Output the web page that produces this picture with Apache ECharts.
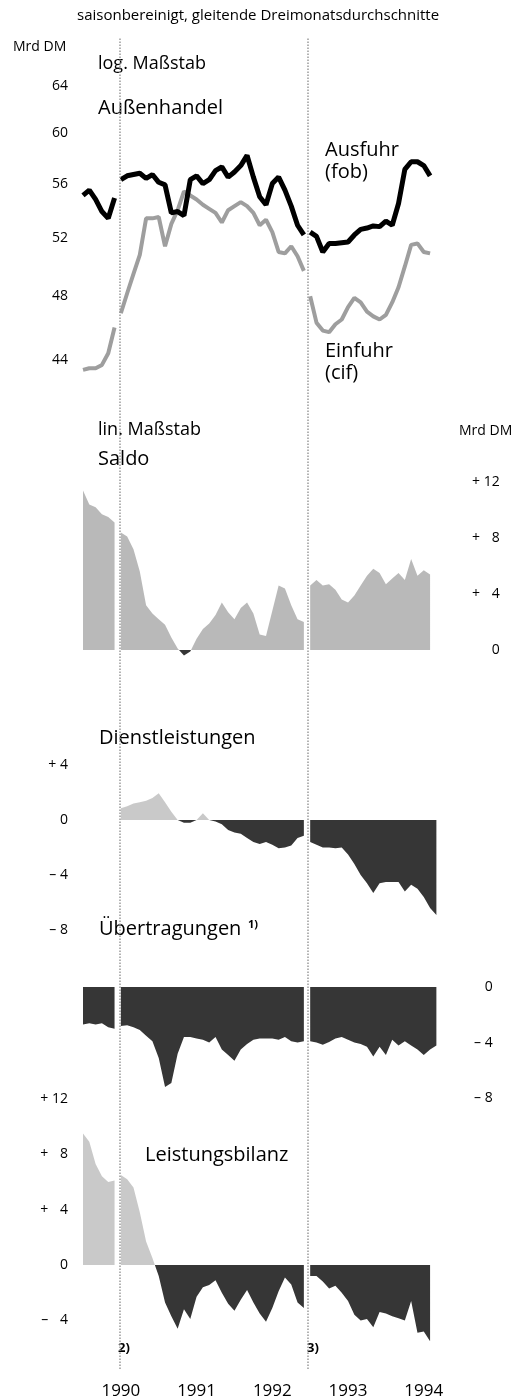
<!DOCTYPE html>
<html>
<head>
<meta charset="utf-8">
<script src="https://cdn.jsdelivr.net/npm/echarts@6/dist/echarts.min.js"></script>
<style>
  html, body { margin: 0; padding: 0; background: #fff; }
  #chart { width: 525px; height: 1400px; }
</style>
</head>
<body>
<div id="chart"></div>
<script>
// Monatswerte ab Januar 1990, Mrd DM (saisonbereinigt, gleitende Dreimonatsdurchschnitte)
var ausfuhr = [55.1, 55.5, 54.8, 53.9, 53.4, 54.9,
  56.3, 56.6, 56.7, 56.8, 56.4, 56.7,
  56.1, 55.9, 53.8, 53.9, 53.6, 56.3, 56.6, 56.0, 56.3, 57.0, 57.3, 56.5,
  56.9, 57.4, 58.2, 56.5, 55.0, 54.4, 56.0, 56.5, 55.5, 54.3, 52.9, 52.2,
  52.4, 52.1, 51.0, 51.6, 51.6, 51.65, 51.7, 52.2, 52.6, 52.7, 52.85, 52.8,
  53.2, 52.9, 54.5, 57.1, 57.7, 57.7, 57.4, 56.6];
var einfuhr = [43.4, 43.5, 43.5, 43.7, 44.4, 46.0,
  46.9, 48.2, 49.5, 50.8, 53.4, 53.4,
  53.5, 51.4, 53.0, 54.0, 55.4, 55.1, 54.8, 54.4, 54.1, 53.8, 53.1, 54.0,
  54.3, 54.6, 54.3, 53.8, 52.9, 53.3, 52.4, 51.0, 50.9, 51.4, 50.7, 49.7,
  48.0, 46.3, 45.8, 45.7, 46.2, 46.5, 47.3, 47.9, 47.6, 47.0, 46.7, 46.5,
  46.8, 47.6, 48.6, 50.0, 51.5, 51.6, 51.0, 50.9];
var saldo = [11.4, 10.4, 10.2, 9.7, 9.5, 9.1,
  8.4, 8.1, 7.2, 5.6, 3.2, 2.6,
  2.2, 1.8, 0.9, 0.1, -0.4, -0.1, 0.8, 1.5, 1.9, 2.5, 3.4, 2.7,
  2.2, 3.0, 3.4, 2.6, 1.1, 1.0, 2.8, 4.6, 4.4, 3.2, 2.2, 2.0,
  4.6, 5.0, 4.6, 4.7, 4.3, 3.6, 3.4, 3.9, 4.6, 5.3, 5.8, 5.5,
  4.7, 5.1, 5.5, 5.0, 6.5, 5.3, 5.7, 5.4];
var dienstleistungen = [null, null, null, null, null, null,
  0.85, 1.0, 1.2, 1.3, 1.4, 1.6,
  1.95, 1.3, 0.6, 0.0, -0.2, -0.2, 0.0, 0.5, 0.0, -0.1, -0.3, -0.73,
  -0.9, -1.0, -1.3, -1.6, -1.75, -1.6, -1.8, -2.05, -2.0, -1.85, -1.3, -1.15,
  -1.6, -1.8, -2.0, -2.0, -2.05, -2.0, -2.5, -3.2, -4.0, -4.6, -5.3, -4.6,
  -4.5, -4.5, -4.5, -5.2, -4.7, -5.0, -5.6, -6.4, -6.9];
var uebertragungen = [-2.7, -2.6, -2.7, -2.6, -2.9, -3.0,
  -2.8, -2.75, -2.9, -3.1, -3.5, -3.9,
  -5.1, -7.2, -6.9, -4.8, -3.6, -3.6, -3.7, -3.8, -4.0, -3.6, -4.5, -4.9,
  -5.3, -4.5, -4.1, -3.8, -3.7, -3.7, -3.7, -3.8, -3.6, -3.9, -4.0, -3.9,
  -3.9, -4.0, -4.15, -3.95, -3.7, -3.6, -3.8, -4.0, -4.1, -4.3, -5.0, -4.3,
  -4.9, -3.8, -4.2, -3.9, -4.2, -4.5, -4.9, -4.5, -4.2];
var leistungsbilanz = [9.5, 8.9, 7.3, 6.4, 6.0, 6.1,
  6.5, 6.2, 5.6, 3.8, 1.7, 0.5,
  -0.8, -2.7, -3.7, -4.6, -3.2, -3.9, -2.3, -1.6, -1.45, -1.1, -2.0, -2.8,
  -3.3, -2.5, -1.8, -2.7, -3.5, -4.1, -3.1, -1.9, -0.9, -1.4, -2.7, -3.1,
  -0.8, -0.8, -1.2, -1.7, -1.5, -2.0, -2.6, -3.6, -4.0, -3.9, -4.5, -3.4,
  -3.5, -3.7, -3.85, -4.0, -2.6, -4.9, -4.8, -5.5];

var breakMonths = [6, 36];              // Juli 1990, Januar 1993: Bruch in der Reihe
var breakLines = [1990.49, 1992.97];
var yearTicks = [1990.5, 1991.5, 1992.5, 1993.5, 1994.5];
var logTicks = [44, 48, 52, 56, 60, 64];

var DARK = '#363636', LIGHT = '#c9c9c9', MID = '#b9b9b9';
var FONT = '"Open Sans", "Noto Sans", sans-serif';

function toPoints(values) {
  var pts = [];
  values.forEach(function (v, i) {
    var t = 1990 + i / 12;
    if (breakMonths.indexOf(i) >= 0) pts.push([t - 1 / 24, null]);
    pts.push([t, v]);
  });
  return pts;
}

function signed(pad) {
  return function (v) {
    if (v === 0) return '0';
    var n = Math.abs(v);
    var s = (pad && n < 10 ? '\u2007' : '') + n;
    return (v > 0 ? '+ ' : '\u2013 ') + s;
  };
}

var L = 83, W = 359.7;
var grids = [
  { left: L, width: W, top: 86, height: 290.7 },
  { left: L, width: W, top: 482, height: 224 },
  { left: L, width: W, top: 765, height: 165 },
  { left: L, width: W, top: 987, height: 111.2 },
  { left: L, width: W, top: 1098.8, height: 277 },
  { left: L, width: W, top: 38, height: 1337 }
];

var xAxes = grids.map(function (g, k) {
  return { gridIndex: k, type: 'value', min: 1990, max: 1994.75, show: false };
});
xAxes[5] = {
  gridIndex: 5, type: 'value', min: 1990, max: 1994.75,
  axisLine: { show: false }, axisTick: { show: false }, splitLine: { show: false },
  axisLabel: { customValues: yearTicks, formatter: function (v) { return Math.floor(v); },
    fontSize: 17, color: '#000', margin: 14 }
};

function yValue(k, opt) {
  var base = {
    gridIndex: k, type: 'value', axisLine: { show: false }, axisTick: { show: false },
    splitLine: { show: false }
  };
  for (var key in opt) base[key] = opt[key];
  return base;
}

var lbl = function (o) { o.fontSize = 14; o.color = '#000'; return o; };

var yAxes = [
  yValue(0, { type: 'log', min: 43, max: 64,
    axisLabel: lbl({ customValues: logTicks, margin: 15 }) }),
  yValue(1, { position: 'right', min: -4, max: 12, interval: 4,
    axisLabel: lbl({ align: 'right', margin: 57, formatter: function (v) { return v < 0 ? '' : signed(true)(v); } }) }),
  yValue(2, { min: -8, max: 4, interval: 4,
    axisLabel: lbl({ margin: 15, formatter: signed(false) }) }),
  yValue(3, { position: 'right', min: -8, max: 0, interval: 4,
    axisLabel: lbl({ align: 'right', margin: 50, formatter: signed(false) }) }),
  yValue(4, { min: -8, max: 12, interval: 4,
    axisLabel: lbl({ margin: 15, formatter: function (v) { return v <= -8 ? '' : signed(true)(v); } }) }),
  yValue(5, { min: 0, max: 1, show: false })
];

function area(name, k, values) {
  return {
    name: name, type: 'line', xAxisIndex: k, yAxisIndex: k, data: toPoints(values),
    showSymbol: false, silent: true, lineStyle: { width: 0 }, areaStyle: { opacity: 1 }
  };
}

var series = [
  { name: 'Einfuhr (cif)', type: 'line', xAxisIndex: 0, yAxisIndex: 0, data: toPoints(einfuhr),
    showSymbol: false, silent: true, color: '#9e9e9e', lineStyle: { width: 4, color: '#9e9e9e' } },
  { name: 'Ausfuhr (fob)', type: 'line', xAxisIndex: 0, yAxisIndex: 0, data: toPoints(ausfuhr),
    showSymbol: false, silent: true, color: '#000', lineStyle: { width: 5, color: '#000' } },
  area('Saldo', 1, saldo),
  area('Dienstleistungen', 2, dienstleistungen),
  area('Übertragungen', 3, uebertragungen),
  area('Leistungsbilanz', 4, leistungsbilanz),
  { type: 'line', xAxisIndex: 5, yAxisIndex: 5, data: [], silent: true,
    markLine: { silent: true, symbol: ['none', 'none'], label: { show: false },
      lineStyle: { type: 'dotted', color: '#9a9a9a', width: 1.5 },
      data: breakLines.map(function (t) { return { xAxis: t }; }) } }
];

// positive Werte hell, negative dunkel
function vm(idx, pos) {
  return { type: 'piecewise', show: false, seriesIndex: idx, dimension: 1,
    pieces: [{ min: -50, max: 0, color: DARK }, { gt: 0, max: 50, color: pos }] };
}

function txt(x, y, s, size, extra) {
  var st = { text: s, fontSize: size, fontFamily: FONT, fill: '#000', verticalAlign: 'middle' };
  for (var k in extra || {}) st[k] = extra[k];
  return { type: 'text', x: x, y: y, silent: true, style: st };
}

var chart = echarts.init(document.getElementById('chart'), null, { renderer: 'canvas' });
chart.setOption({
  animation: false,
  backgroundColor: '#fff',
  textStyle: { fontFamily: FONT },
  grid: grids,
  xAxis: xAxes,
  yAxis: yAxes,
  visualMap: [vm(2, MID), vm(3, LIGHT), vm(4, LIGHT), vm(5, LIGHT)],
  series: series,
  graphic: [
    txt(77, 16, 'saisonbereinigt, gleitende Dreimonatsdurchschnitte', 15),
    txt(13, 47, 'Mrd DM', 14),
    txt(98, 64, 'log. Maßstab', 18),
    txt(98, 108, 'Außenhandel', 20),
    txt(325, 150, 'Ausfuhr', 20),
    txt(325, 172, '(fob)', 20),
    txt(325, 351, 'Einfuhr', 20),
    txt(325, 373, '(cif)', 20),
    txt(98, 430, 'lin. Maßstab', 18),
    txt(98, 459, 'Saldo', 20),
    txt(459, 431, 'Mrd DM', 14),
    txt(99, 738, 'Dienstleistungen', 20),
    txt(99, 929, 'Übertragungen', 20),
    txt(248, 925, '1)', 11, { fontWeight: 'bold' }),
    txt(145, 1155, 'Leistungsbilanz', 20),
    txt(118, 1348, '2)', 13, { fontWeight: 'bold' }),
    txt(307, 1348, '3)', 13, { fontWeight: 'bold' })
  ]
});
</script>
</body>
</html>
